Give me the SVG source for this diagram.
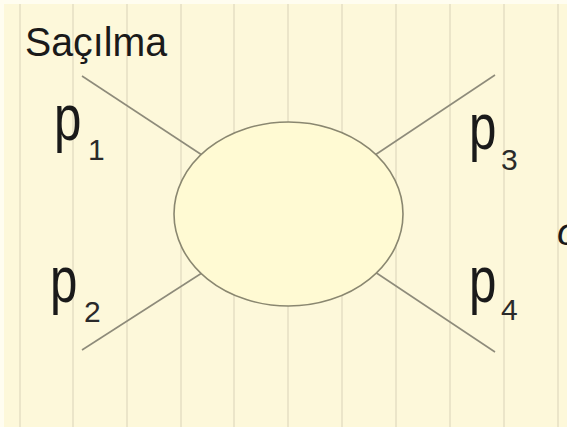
<svg xmlns="http://www.w3.org/2000/svg" width="567" height="427" viewBox="0 0 567 427">
<style>
.stripe{stroke:#e4dfc3;stroke-width:1.5}
.leg{stroke:#8e8b7a;stroke-width:1.6;fill:none}
.lbl{font-family:"Liberation Sans",Arial,sans-serif;fill:#1a1a1a}
.sub{font-family:"Liberation Sans",Arial,sans-serif;font-size:30px;fill:#2a2a2a}
</style>
<rect x="0" y="0" width="567" height="427" fill="#fffdf0"/>
<rect x="4" y="4" width="563" height="423" fill="#fdf8da"/>
<g id="background-stripes">
<line class="stripe" x1="20" y1="4" x2="20" y2="427"/>
<line class="stripe" x1="73" y1="4" x2="73" y2="427"/>
<line class="stripe" x1="127" y1="4" x2="127" y2="427"/>
<line class="stripe" x1="181" y1="4" x2="181" y2="427"/>
<line class="stripe" x1="234" y1="4" x2="234" y2="427"/>
<line class="stripe" x1="288" y1="4" x2="288" y2="427"/>
<line class="stripe" x1="342" y1="4" x2="342" y2="427"/>
<line class="stripe" x1="396" y1="4" x2="396" y2="427"/>
<line class="stripe" x1="450" y1="4" x2="450" y2="427"/>
<line class="stripe" x1="504" y1="4" x2="504" y2="427"/>
<line class="stripe" x1="558" y1="4" x2="558" y2="427"/>
</g>
<g id="connectors">
<line class="leg" x1="82" y1="76" x2="205" y2="157"/>
<line class="leg" x1="495" y1="75" x2="372" y2="157"/>
<line class="leg" x1="82" y1="350" x2="205" y2="271"/>
<line class="leg" x1="495" y1="352" x2="372" y2="270"/>
</g>
<g id="blob">
<ellipse cx="288.5" cy="214" rx="114.5" ry="92" fill="#fffad3" stroke="#8a8770" stroke-width="1.6"/>
</g>
<g id="title">
<text class="lbl" x="25" y="56" font-size="40" textLength="142" lengthAdjust="spacingAndGlyphs">Saçılma</text>
</g>
<g id="p1">
<text class="lbl" font-size="64" transform="translate(54,140) scale(0.77,1)">p</text>
<text class="sub" x="88" y="160">1</text>
</g>
<g id="p2">
<text class="lbl" font-size="64" transform="translate(50,302) scale(0.77,1)">p</text>
<text class="sub" x="84" y="322">2</text>
</g>
<g id="p3">
<text class="lbl" font-size="64" transform="translate(469,149) scale(0.77,1)">p</text>
<text class="sub" x="501" y="170">3</text>
</g>
<g id="p4">
<text class="lbl" font-size="64" transform="translate(469,302) scale(0.77,1)">p</text>
<text class="sub" x="501" y="320">4</text>
</g>
<g id="sigma">
<text class="lbl" x="557" y="245" font-size="38" font-style="italic">σ</text>
</g>
</svg>
